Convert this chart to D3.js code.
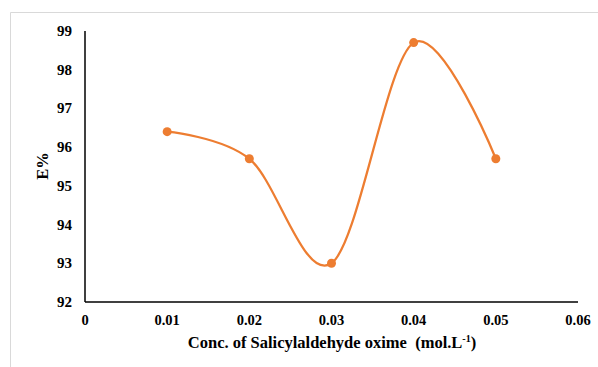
<!DOCTYPE html>
<html>
<head>
<meta charset="utf-8">
<script src="https://d3js.org/d3.v7.min.js"></script>
<style>
  body { margin: 0; background: #fff; }
</style>
</head>
<body>
<div id="chart"></div>
<script>
// data
var conc = [0.01, 0.02, 0.03, 0.04, 0.05];
var extraction = [96.4, 95.7, 93.0, 98.7, 95.7];
var xTicks = [0, 0.01, 0.02, 0.03, 0.04, 0.05, 0.06];
var yTicks = [92, 93, 94, 95, 96, 97, 98, 99];

var W = 598, H = 367;

var svg = d3.select("#chart").append("svg")
    .attr("width", W)
    .attr("height", H)
    .style("font-family", "'Liberation Serif', 'Times New Roman', serif")
    .style("font-weight", "bold");

// outer frame
svg.append("path")
    .attr("d", "M10.5," + H + "V12.5H" + W)
    .attr("fill", "none")
    .attr("stroke", "#d9d9d9")
    .attr("stroke-width", 1);

var x = d3.scaleLinear().domain([0, 0.06]).range([85, 578]);
var y = d3.scaleLinear().domain([92, 99]).range([302, 31]);

// axes lines
svg.append("line")
    .attr("x1", x(0)).attr("x2", x(0.06))
    .attr("y1", y(92)).attr("y2", y(92))
    .attr("stroke", "#000").attr("stroke-width", 1.5);
svg.append("line")
    .attr("x1", x(0)).attr("x2", x(0))
    .attr("y1", y(92)).attr("y2", y(99))
    .attr("stroke", "#000").attr("stroke-width", 1.5);

// tick labels
svg.selectAll(".xt").data(xTicks).enter().append("text")
    .attr("x", function(d) { return x(d); })
    .attr("y", 325)
    .attr("text-anchor", "middle")
    .style("font-size", "14.5px")
    .text(function(d) { return d === 0 ? "0" : d.toFixed(2); });

svg.selectAll(".yt").data(yTicks).enter().append("text")
    .attr("x", 72)
    .attr("y", function(d) { return y(d) + 5; })
    .attr("text-anchor", "end")
    .style("font-size", "15px")
    .text(function(d) { return d; });

// axis titles
var xt = svg.append("text")
    .attr("x", 332)
    .attr("y", 348)
    .attr("text-anchor", "middle")
    .style("font-size", "16.5px")
    .style("white-space", "pre");
xt.append("tspan").text("Conc. of Salicylaldehyde oxime  (mol.L");
xt.append("tspan").attr("dy", -6).style("font-size", "10px").text("-1");
xt.append("tspan").attr("dy", 6).text(")");

svg.append("text")
    .attr("transform", "translate(48,166) rotate(-90)")
    .attr("text-anchor", "middle")
    .style("font-size", "16.5px")
    .text("E%");

var pts = conc.map(function(c, i) { return [c, extraction[i]]; });

var line = d3.line()
    .x(function(d) { return x(d[0]); })
    .y(function(d) { return y(d[1]); })
    .curve(d3.curveCardinal.tension(0));

svg.append("path")
    .datum(pts)
    .attr("d", line)
    .attr("fill", "none")
    .attr("stroke", "#ed7d31")
    .attr("stroke-width", 2.25);

svg.selectAll(".pt").data(pts).enter().append("circle")
    .attr("cx", function(d) { return x(d[0]); })
    .attr("cy", function(d) { return y(d[1]); })
    .attr("r", 4.5)
    .attr("fill", "#ed7d31");
</script>
</body>
</html>
